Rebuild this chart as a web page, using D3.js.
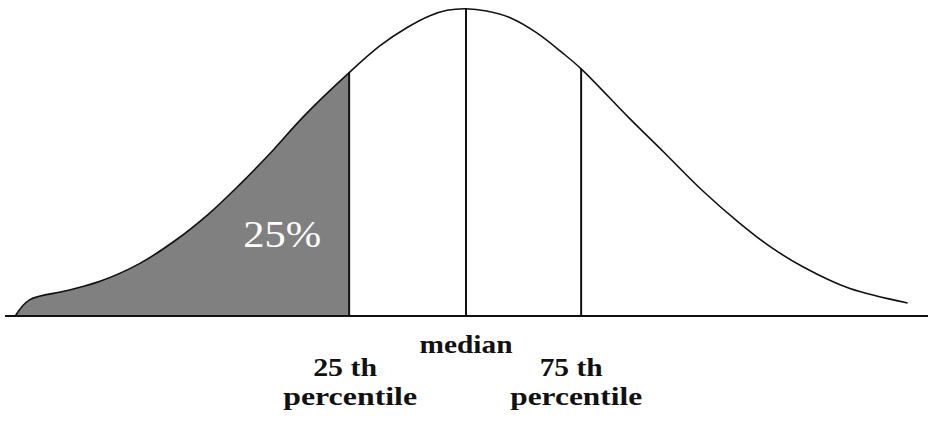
<!DOCTYPE html>
<html>
<head>
<meta charset="utf-8">
<script src="https://cdn.jsdelivr.net/npm/d3@7"></script>
<style>
  html, body { margin: 0; padding: 0; background: #fff; }
  svg { display: block; }
  svg text { font-family: "Liberation Serif", serif; }
</style>
</head>
<body>
<svg id="chart" width="930" height="426"></svg>
<script>
// Bell-shaped density curve, sampled in standard-score units
const zValues = [-2.62, -2.54, -2.32, -2.13, -1.90, -1.68, -1.49, -1.32, -1.12, -0.95, -0.68,
                 -0.50, -0.34, -0.21, -0.11, 0.00, 0.12, 0.26, 0.41, 0.56, 0.67,
                 0.95, 1.15, 1.38, 1.59, 1.77, 1.96, 2.23, 2.57];
const density = [0.001, 0.021, 0.033, 0.045, 0.068, 0.100, 0.134, 0.170, 0.216, 0.258, 0.316,
                 0.351, 0.375, 0.390, 0.397, 0.399, 0.396, 0.387, 0.368, 0.342, 0.321,
                 0.257, 0.213, 0.162, 0.121, 0.090, 0.064, 0.036, 0.017];

// Quartile markers (positions in the same units)
const markerZ = [-0.68, 0.00, 0.67];
const markerLabels = [["25 th", "percentile"], ["median"], ["75 th", "percentile"]];
const shadedLabel = "25%";

const svg = d3.select("#chart");

const x = d3.scaleLinear().domain([-2.7, 2.7]).range([2, 930]);
const y = d3.scaleLinear().domain([0, 0.4]).range([316, 8]);

const pts = zValues.map((z, i) => ({ z, d: density[i] }));
const densityAt = z => {
  const p = pts.find(q => Math.abs(q.z - z) < 1e-9);
  return p ? p.d : 0;
};
const curve = d3.curveCatmullRom.alpha(0.5);

function draw() {
  // Shaded lower tail up to the first quartile
  const tail = pts.filter(p => p.z <= markerZ[0] + 1e-9);
  svg.append("path")
    .datum(tail)
    .attr("fill", "#808080")
    .attr("d", d3.area().x(p => x(p.z)).y0(y(0)).y1(p => y(p.d)).curve(curve));

  // Density curve
  svg.append("path")
    .datum(pts)
    .attr("fill", "none")
    .attr("stroke", "#111")
    .attr("stroke-width", 1.6)
    .attr("d", d3.line().x(p => x(p.z)).y(p => y(p.d)).curve(curve));

  // Quartile lines
  svg.selectAll("line.marker")
    .data(markerZ)
    .join("line")
    .attr("class", "marker")
    .attr("x1", d => x(d)).attr("x2", d => x(d))
    .attr("y1", y(0)).attr("y2", d => y(densityAt(d)))
    .attr("stroke", "#111")
    .attr("stroke-width", 2);

  // Baseline
  svg.append("line")
    .attr("x1", 5).attr("x2", 928)
    .attr("y1", y(0)).attr("y2", y(0))
    .attr("stroke", "#111")
    .attr("stroke-width", 2);

  // Centered text, widened horizontally to a target width
  function wideText(cx, by, str, size, width, bold, fill) {
    const g = svg.append("g");
    const t = g.append("text")
      .attr("text-anchor", "middle")
      .attr("font-family", "Liberation Serif")
      .attr("font-weight", bold ? "bold" : "normal")
      .attr("font-size", size)
      .attr("fill", fill)
      .text(str);
    const natural = t.node().getComputedTextLength() || width;
    g.attr("transform", `translate(${cx},${by}) scale(${width / natural},1)`);
  }

  // Tail share label
  wideText(x(markerZ[0]) - 67, 247, shadedLabel, 37, 78, false, "#fff");

  // Marker captions
  const captionRows = [
    [{ t: markerLabels[0][0], dx: -4, y: 376, w: 64 }, { t: markerLabels[0][1], dx: 1, y: 405, w: 134 }],
    [{ t: markerLabels[1][0], dx: 0, y: 353, w: 93 }],
    [{ t: markerLabels[2][0], dx: -10, y: 376, w: 63 }, { t: markerLabels[2][1], dx: -5, y: 405, w: 132 }]
  ];
  markerZ.forEach((z, i) => {
    captionRows[i].forEach(r => wideText(x(z) + r.dx, r.y, r.t, 26, r.w, true, "#111"));
  });
}

// Make sure the serif faces are ready before measuring text
const fontsReady = (document.fonts && document.fonts.load)
  ? Promise.all([
      document.fonts.load('bold 26px "Liberation Serif"'),
      document.fonts.load('37px "Liberation Serif"')
    ]).catch(() => null)
  : Promise.resolve();
fontsReady.then(draw);
</script>
</body>
</html>
